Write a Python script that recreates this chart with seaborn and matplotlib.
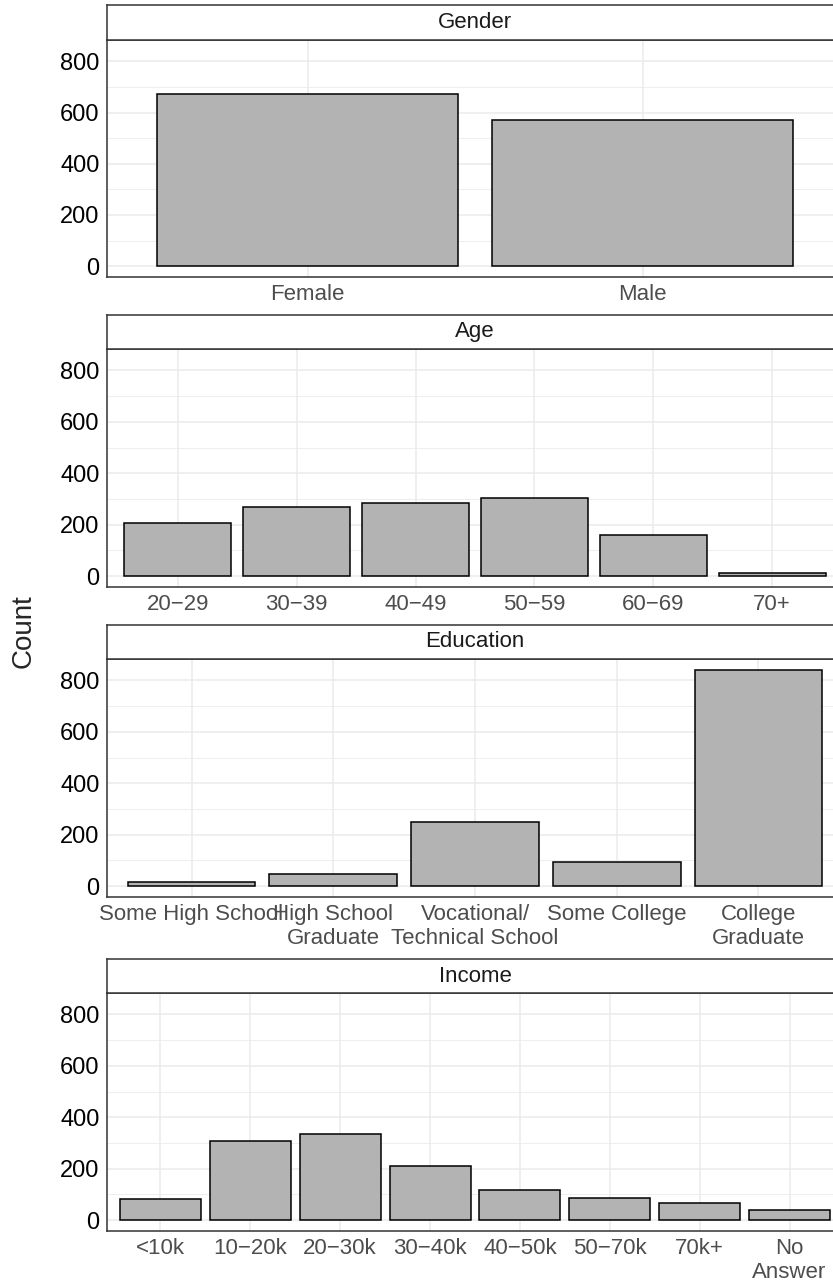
import matplotlib
matplotlib.use('Agg')
import matplotlib.pyplot as plt
import seaborn as sns
import pandas as pd
from matplotlib.ticker import MultipleLocator

# Data
gender_cats = ['Female', 'Male']
gender_counts = [673, 570]

age_cats = ['20\u221229', '30\u221239', '40\u221249', '50\u221259', '60\u221269', '70+']
age_counts = [205, 270, 286, 303, 160, 14]

edu_cats = ['Some High School', 'High School\nGraduate', 'Vocational/\nTechnical School',
            'Some College', 'College\nGraduate']
edu_counts = [15, 46, 250, 93, 839]

income_cats = ['<10k', '10\u221220k', '20\u221230k', '30\u221240k', '40\u221250k',
               '50\u221270k', '70k+', 'No\nAnswer']
income_counts = [82, 306, 336, 209, 117, 87, 65, 40]

sns.set_style('white')
plt.rcParams['font.family'] = ['Liberation Sans', 'DejaVu Sans']

W, H = 833, 1285
fig = plt.figure(figsize=(W / 100, H / 100), dpi=100)

# panel geometry in pixels (strip top, panel top, panel bottom)
left, pw = 106.5, 737
panels = [
    ('Gender', gender_cats, gender_counts, 5, 40, 277),
    ('Age', age_cats, age_counts, 315, 349, 587),
    ('Education', edu_cats, edu_counts, 625, 659, 897),
    ('Income', income_cats, income_counts, 959, 993, 1231),
]

border = '#333333'
for title, cats, counts, ys, yt, yb in panels:
    ax = fig.add_axes([left / W, 1 - yb / H, pw / W, (yb - yt) / H])
    df = pd.DataFrame({'cat': cats, 'n': counts})
    sns.barplot(data=df, x='cat', y='n', color='#B3B3B3', saturation=1,
                edgecolor='black', linewidth=1.1, width=0.9, ax=ax)
    ax.set_xlim(-0.6, len(cats) - 0.4)
    ax.set_ylim(-42, 883)
    ax.yaxis.set_major_locator(MultipleLocator(200))
    ax.yaxis.set_minor_locator(MultipleLocator(100))
    ax.set_axisbelow(True)
    ax.grid(which='major', color='#EBEBEB', lw=1.1)
    ax.grid(which='minor', axis='y', color='#EBEBEB', lw=0.6)
    ax.set_xlabel('')
    ax.set_ylabel('')
    for s in ax.spines.values():
        s.set_color(border)
        s.set_linewidth(1.1)
    ax.tick_params(which='major', length=3.5, width=1.0, color=border)
    ax.tick_params(which='minor', length=0)
    ax.tick_params(axis='y', labelsize=17, labelcolor='black', pad=1.5)
    ax.tick_params(axis='x', labelsize=16, labelcolor='#4D4D4D', pad=1.5)
    for lab in ax.get_xticklabels():
        lab.set_linespacing(1.2)

    sax = fig.add_axes([left / W, 1 - yt / H, pw / W, (yt - ys) / H])
    sax.set_xticks([])
    sax.set_yticks([])
    sax.set_facecolor('white')
    for s in sax.spines.values():
        s.set_color(border)
        s.set_linewidth(1.1)
    sax.text(0.5, 0.5, title, ha='center', va='center', fontsize=16,
             color='#1A1A1A', transform=sax.transAxes)

fig.text(24 / W, 1 - 631 / H, 'Count', rotation=90, ha='center', va='center', fontsize=20)

fig.savefig('out.png', dpi=100)
